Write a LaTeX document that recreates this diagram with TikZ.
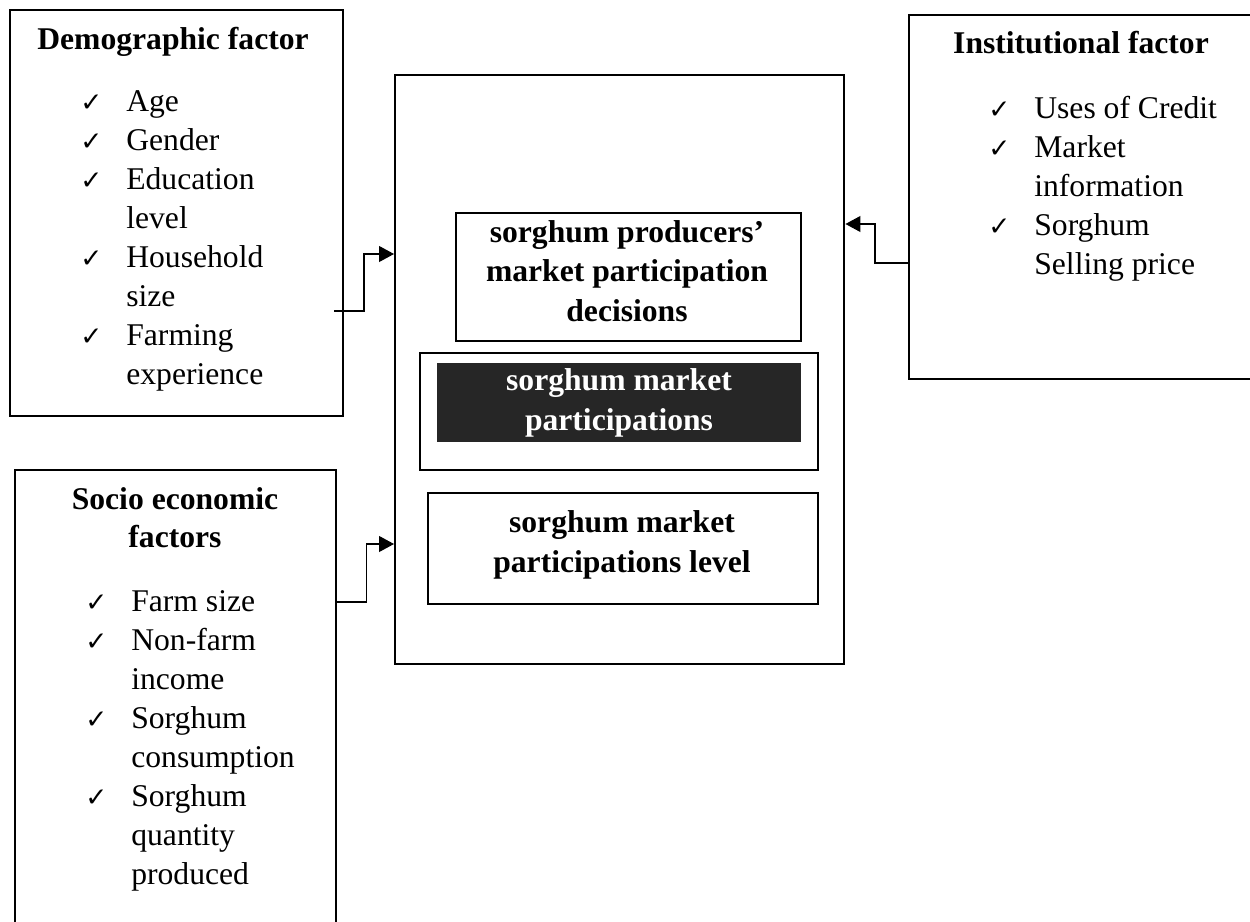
\documentclass[tikz,border=0pt]{standalone}
\usepackage{fontspec}
\setmainfont{Liberation Serif}
\newfontfamily\ticksym{DejaVu Sans}
\usetikzlibrary{arrows.meta,positioning}

\newcommand{\tk}{\makebox[0.92cm][l]{\ticksym\fontsize{15}{15}\selectfont ✓}}
\newcommand{\factorlist}[1]{\begin{tabular}{@{}l@{}l@{}}#1\end{tabular}}

\begin{document}
\begin{tikzpicture}[x=0.02cm, y=-0.02cm,
  every node/.style={font=\fontsize{18}{22.2}\selectfont},
  factorbox/.style={draw, line width=1.4pt, anchor=north west, inner sep=0pt},
  titletext/.style={font=\fontsize{18}{21.6}\selectfont\bfseries, align=center, inner sep=0pt},
  itemtext/.style={anchor=north west, inner sep=0pt, align=left},
  innerbox/.style={draw, line width=1.4pt, anchor=north west, inner sep=0pt},
  boldtext/.style={font=\fontsize{18}{22.6}\selectfont\bfseries, align=center, inner sep=0pt},
  link/.style={line width=0.6pt, -{Triangle[length=0.3cm, width=0.32cm]}},
]
\clip (0,0) rectangle (1250,922);

% factor boxes
\node[factorbox, minimum width=333*0.02cm, minimum height=406*0.02cm] (demo) at (9,9) {};
\node[factorbox, minimum width=360*0.02cm, minimum height=364*0.02cm] (inst) at (908,14) {};
\node[factorbox, minimum width=321*0.02cm, minimum height=480*0.02cm] (socio) at (14,469) {};

\node[titletext] (demotitle) at (173,42) {Demographic factor};
\node[itemtext] (demolist) at (80,84) {\factorlist{
  \tk & Age\\ \tk & Gender\\ \tk & Education\\ & level\\
  \tk & Household\\ & size\\ \tk & Farming\\ & experience}};

\node[titletext] (insttitle) at (1081,43) {Institutional factor};
\node[itemtext] (instlist) at (988,91) {\factorlist{
  \tk & Uses of Credit\\ \tk & Market\\ & information\\
  \tk & Sorghum\\ & Selling price}};

\node[titletext] (sociotitle) at (175,518) {Socio economic\\factors};
\node[itemtext] (sociolist) at (85,584) {\factorlist{
  \tk & Farm size\\ \tk & Non-farm\\ & income\\ \tk & Sorghum\\
  & consumption\\ \tk & Sorghum\\ & quantity\\ & produced}};

% central block
\node[innerbox, minimum width=449*0.02cm, minimum height=589*0.02cm] (main) at (394,74) {};
\node[innerbox, minimum width=345*0.02cm, minimum height=128*0.02cm] (decide) at (455,212) {};
\node[boldtext] (decidetext) at (627,271) {sorghum producers'\\market participation\\decisions};
\node[innerbox, minimum width=398*0.02cm, minimum height=117*0.02cm] (partbox) at (419,352) {};
\node[anchor=north west, fill=black!85, minimum width=364*0.02cm, minimum height=79*0.02cm,
  inner sep=0pt] (partfill) at (437,363) {};
\node[boldtext, text=white] (parttext) at (619,403) {sorghum market\\participations};
\node[innerbox, minimum width=390*0.02cm, minimum height=111*0.02cm] (level) at (427,492) {};
\node[boldtext] (leveltext) at (622,545) {sorghum market\\participations level};

% connectors
\coordinate (demoout) at (334,311);
\draw[link] (demoout) -- ++(30,0) |- (main.west |- 0,254);
\draw[link] (socio.east |- 0,602) -- ++(29,0) |- (main.west |- 0,544);
\draw[link] (inst.west |- 0,263) -- ++(-33,0) |- (main.east |- 0,224);
\end{tikzpicture}
\end{document}
